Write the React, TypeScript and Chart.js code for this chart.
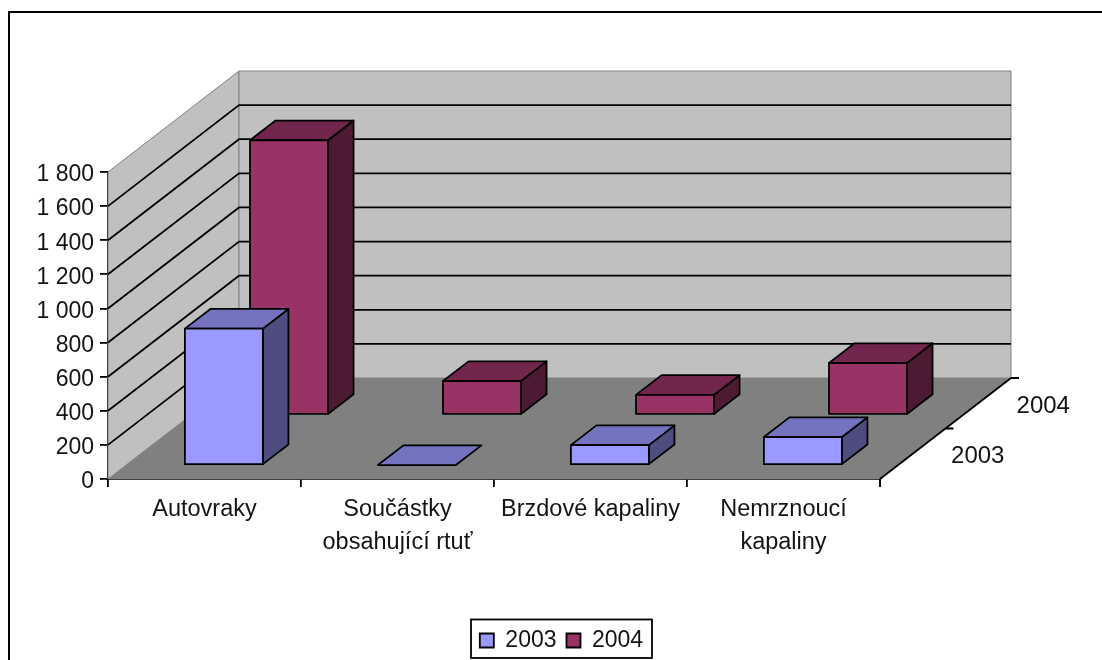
import React, { useEffect, useRef } from "react";
import { Chart, registerables } from "chart.js";

Chart.register(...registerables);

const categories: (string | string[])[] = [
  "Autovraky",
  ["Součástky", "obsahující rtuť"],
  "Brzdové kapaliny",
  ["Nemrznoucí", "kapaliny"],
];
const seriesNames = ["2003", "2004"];
const values2003 = [800, 0, 117, 164];
const values2004 = [1610, 198, 117, 304];
const frontColors = ["#9999FF", "#993366"];
const topColors = ["#7373BF", "#73264D"];
const sideColors = ["#4D4D80", "#4D1A33"];

const FONT = '"Liberation Sans", Arial, sans-serif';
const TEXT = "#141414";
const DEPTH_X = 131;
const DEPTH_Y = -101;
const ROW_START = [0.148, 0.645];
const BAR_DEPTH = 0.195;
const BAR_Y_NUDGE = 1;
const LINE = 1.8;

function quad(ctx: CanvasRenderingContext2D, pts: number[][], fill: string, stroke?: string, lw = LINE) {
  ctx.beginPath();
  pts.forEach((p, i) => (i ? ctx.lineTo(p[0], p[1]) : ctx.moveTo(p[0], p[1])));
  ctx.closePath();
  ctx.fillStyle = fill;
  ctx.fill();
  if (stroke) {
    ctx.strokeStyle = stroke;
    ctx.lineWidth = lw;
    ctx.stroke();
  }
}

const scene3d = {
  id: "scene3d",
  afterLayout(chart: any) {
    const legend = chart.legend;
    legend.left = 441;
    legend.right = 682;
    legend.top = 619;
    legend.bottom = 658;
  },
  beforeDraw(chart: any) {
    // tick labels sit slightly below the tick in the reference
    for (const it of chart.scales.y.getLabelItems()) {
      if (!it.__moved) {
        it.options.translation[1] += 3;
        it.__moved = true;
      }
    }
  },
  beforeDatasetsDraw(chart: any) {
    const { ctx, chartArea: a, scales } = chart;
    const y = scales.y;
    const y0 = y.getPixelForValue(0);
    const yTop = y.getPixelForValue(1800);
    ctx.save();
    // walls and floor
    quad(ctx, [[a.left, yTop], [a.left + DEPTH_X, yTop + DEPTH_Y], [a.left + DEPTH_X, y0 + DEPTH_Y], [a.left, y0]], "#C0C0C0", "#808080", 1);
    quad(ctx, [[a.left + DEPTH_X, yTop + DEPTH_Y], [a.right + DEPTH_X, yTop + DEPTH_Y], [a.right + DEPTH_X, y0 + DEPTH_Y], [a.left + DEPTH_X, y0 + DEPTH_Y]], "#C0C0C0", "#808080", 1);
    quad(ctx, [[a.left, y0], [a.right, y0], [a.right + DEPTH_X, y0 + DEPTH_Y], [a.left + DEPTH_X, y0 + DEPTH_Y]], "#808080");
    // gridlines along the walls
    ctx.strokeStyle = "#000";
    ctx.lineWidth = LINE;
    for (const t of y.ticks) {
      if (t.value === 0 || t.value === 1800) continue;
      const py = y.getPixelForValue(t.value);
      ctx.beginPath();
      ctx.moveTo(a.left, py);
      ctx.lineTo(a.left + DEPTH_X, py + DEPTH_Y);
      ctx.lineTo(a.right + DEPTH_X, py + DEPTH_Y);
      ctx.stroke();
    }
    // depth axis
    ctx.beginPath();
    ctx.moveTo(a.right, y0);
    ctx.lineTo(a.right + DEPTH_X, y0 + DEPTH_Y);
    ctx.moveTo(a.right, y0);
    ctx.lineTo(a.right, y0 + 8);
    ctx.moveTo(a.right + DEPTH_X / 2, y0 + DEPTH_Y / 2);
    ctx.lineTo(a.right + DEPTH_X / 2 + 8, y0 + DEPTH_Y / 2);
    ctx.moveTo(a.right + DEPTH_X, y0 + DEPTH_Y);
    ctx.lineTo(a.right + DEPTH_X + 8, y0 + DEPTH_Y);
    ctx.stroke();
    ctx.fillStyle = TEXT;
    ctx.font = `24px ${FONT}`;
    ctx.textAlign = "center";
    ctx.textBaseline = "middle";
    seriesNames.forEach((name, i) => {
      const f = (i + 0.5) / seriesNames.length;
      ctx.fillText(name, a.right + DEPTH_X * f + 65, y0 + DEPTH_Y * f + 3);
    });
    ctx.restore();
  },
  beforeDatasetDraw(chart: any, args: any) {
    const { ctx } = chart;
    const i = args.index;
    const dx0 = DEPTH_X * ROW_START[i];
    const dy0 = DEPTH_Y * ROW_START[i] + BAR_Y_NUDGE;
    const ddx = DEPTH_X * BAR_DEPTH;
    const ddy = DEPTH_Y * BAR_DEPTH;
    ctx.save();
    ctx.lineJoin = "round";
    for (const el of args.meta.data) {
      const l = el.x - el.width / 2 + dx0;
      const r = el.x + el.width / 2 + dx0;
      const t = el.y + dy0;
      const b = el.base + dy0;
      if (b - t > 0.5) {
        quad(ctx, [[r, t], [r + ddx, t + ddy], [r + ddx, b + ddy], [r, b]], sideColors[i], "#000");
      }
      quad(ctx, [[l, t], [r, t], [r + ddx, t + ddy], [l + ddx, t + ddy]], topColors[i], "#000");
      if (b - t > 0.5) {
        quad(ctx, [[l, t], [r, t], [r, b], [l, b]], frontColors[i], "#000");
      }
    }
    ctx.restore();
    return false;
  },
  afterDraw(chart: any) {
    const { ctx } = chart;
    ctx.save();
    ctx.strokeStyle = "#000";
    // legend frame
    ctx.lineWidth = LINE;
    ctx.strokeRect(471, 619.5, 181, 38.5);
    // outer chart border: its right and bottom edges fall outside the picture
    ctx.lineWidth = 2;
    ctx.beginPath();
    ctx.moveTo(9, 660);
    ctx.lineTo(9, 12);
    ctx.lineTo(1102, 12);
    ctx.stroke();
    ctx.restore();
  },
};

export default function App() {
  const ref = useRef<HTMLCanvasElement>(null);
  useEffect(() => {
    const chart = new Chart(ref.current!, {
      type: "bar",
      plugins: [scene3d],
      data: {
        labels: categories as any,
        datasets: [
          { label: seriesNames[0], data: values2003, backgroundColor: frontColors[0], borderColor: "#000", borderWidth: LINE },
          { label: seriesNames[1], data: values2004, backgroundColor: frontColors[1], borderColor: "#000", borderWidth: LINE },
        ],
      },
      options: {
        responsive: false,
        animation: false,
        layout: { padding: { top: 172, right: 222, left: 0, bottom: 0 } },
        datasets: { bar: { grouped: false, categoryPercentage: 1, barPercentage: 78 / 193 } },
        plugins: {
          tooltip: { enabled: false },
          legend: {
            display: true,
            position: "bottom",
            labels: {
              boxWidth: 14,
              boxHeight: 14,
              padding: 10,
              color: TEXT,
              font: { family: FONT, size: 23 },
            },
          },
        },
        scales: {
          x: {
            type: "category",
            offset: true,
            afterFit: (s: any) => {
              s.height = 660 - 479 - (s.chart.legend?.height ?? 0);
            },
            grid: { display: true, drawOnChartArea: false, drawTicks: true, tickLength: 8, color: "#000", lineWidth: LINE, offset: true },
            border: { display: true, color: "#000", width: LINE },
            ticks: {
              autoSkip: false,
              maxRotation: 0,
              minRotation: 0,
              padding: 6,
              color: TEXT,
              font: { family: FONT, size: 23.5, lineHeight: 1.4 },
            },
          },
          y: {
            type: "linear",
            min: 0,
            max: 1800,
            afterFit: (s: any) => {
              s.width = 108;
            },
            grid: { display: true, drawOnChartArea: false, drawTicks: true, tickLength: 8, color: "#000", lineWidth: LINE },
            border: { display: true, color: "#000", width: LINE },
            ticks: {
              stepSize: 200,
              padding: 6,
              color: TEXT,
              font: { family: FONT, size: 23 },
              callback: (v: any) => String(v).replace(/\B(?=(\d{3})+$)/g, " "),
            },
          },
        },
      } as any,
    });
    return () => chart.destroy();
  }, []);
  return (
    <canvas
      ref={ref}
      width={1102}
      height={660}
      style={{ position: "fixed", left: 0, top: 0, display: "block", background: "#fff", filter: "blur(0.4px)" }}
    />
  );
}
